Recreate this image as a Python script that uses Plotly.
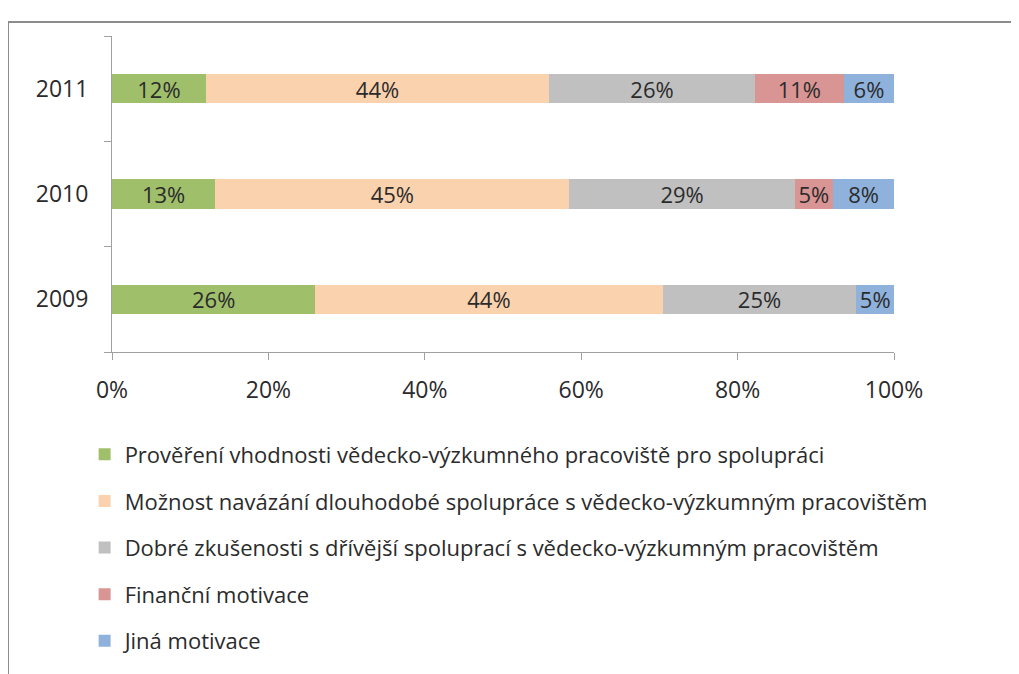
import plotly.graph_objects as go

years = ["2009", "2010", "2011"]

series_names = [
    "Prověření vhodnosti vědecko-výzkumného pracoviště pro spolupráci",
    "Možnost navázání dlouhodobé spolupráce s vědecko-výzkumným pracovištěm",
    "Dobré zkušenosti s dřívější spoluprací s vědecko-výzkumným pracovištěm",
    "Finanční motivace",
    "Jiná motivace",
]

# shares in %, order of years: 2009, 2010, 2011
proverreni = [26.0, 13.2, 12.0]
dlouhodoba = [44.4, 45.3, 43.9]
zkusenosti = [24.8, 28.8, 26.3]
financni = [0.0, 4.9, 11.4]
jina = [4.8, 7.8, 6.4]

values = [proverreni, dlouhodoba, zkusenosti, financni, jina]
colors = ["#a0bf6b", "#fbd2ae", "#c0c0c0", "#d99593", "#8fb2dc"]

x_ticks = [0, 20, 40, 60, 80, 100]
x_tick_labels = ["0%", "20%", "40%", "60%", "80%", "100%"]

FONT = "'Open Sans', Lato, sans-serif"
TXT = "#2b2b2b"

fig = go.Figure()
for i, name in enumerate(series_names):
    vals = values[i]
    fig.add_trace(
        go.Bar(
            y=years,
            x=vals,
            orientation="h",
            name=name,
            legendgroup=f"g{i}",
            marker=dict(color=colors[i], line=dict(width=0)),
            text=[f"{v:.0f}%" if v > 0 else "" for v in vals],
            textposition="inside",
            insidetextanchor="middle",
            textangle=0,
            constraintext="none",
            textfont=dict(family=FONT, size=22, color=TXT),
        )
    )

# page is shown with an 8px body margin, so everything is shifted by 8px
fig.update_layout(
    width=1019,
    height=674,
    barmode="stack",
    bargap=0.72,
    paper_bgcolor="white",
    plot_bgcolor="white",
    margin=dict(l=104, r=133, t=28, b=330),
    font=dict(family=FONT, size=22, color=TXT),
    legend=dict(
        orientation="v",
        traceorder="grouped",
        tracegroupgap=15,
        x=-0.035,
        xanchor="left",
        y=-0.258,
        yanchor="top",
        font=dict(family=FONT, size=22, color=TXT),
        bgcolor="rgba(0,0,0,0)",
    ),
    shapes=[
        dict(
            type="rect",
            xref="paper",
            yref="paper",
            x0=-0.133,
            x1=1.2,
            y0=-1.1,
            y1=1.044,
            line=dict(color="#8c8c8c", width=2),
            fillcolor="rgba(0,0,0,0)",
            layer="below",
        )
    ],
)

fig.update_xaxes(
    range=[0, 100],
    tickvals=x_ticks,
    ticktext=x_tick_labels,
    showgrid=False,
    zeroline=False,
    showline=True,
    linecolor="#a0a0a0",
    linewidth=1,
    ticks="outside",
    ticklen=7,
    tickcolor="#a0a0a0",
    ticklabelstandoff=10,
    automargin=False,
    tickfont=dict(family=FONT, size=23, color=TXT),
)
fig.update_yaxes(
    type="category",
    categoryorder="array",
    categoryarray=years,
    showgrid=False,
    zeroline=False,
    showline=True,
    linecolor="#a0a0a0",
    linewidth=1,
    ticks="outside",
    tickson="boundaries",
    ticklen=7,
    tickcolor="#a0a0a0",
    ticklabelstandoff=18,
    automargin=False,
    tickfont=dict(family=FONT, size=23, color=TXT),
)

fig.write_html("out.html")
